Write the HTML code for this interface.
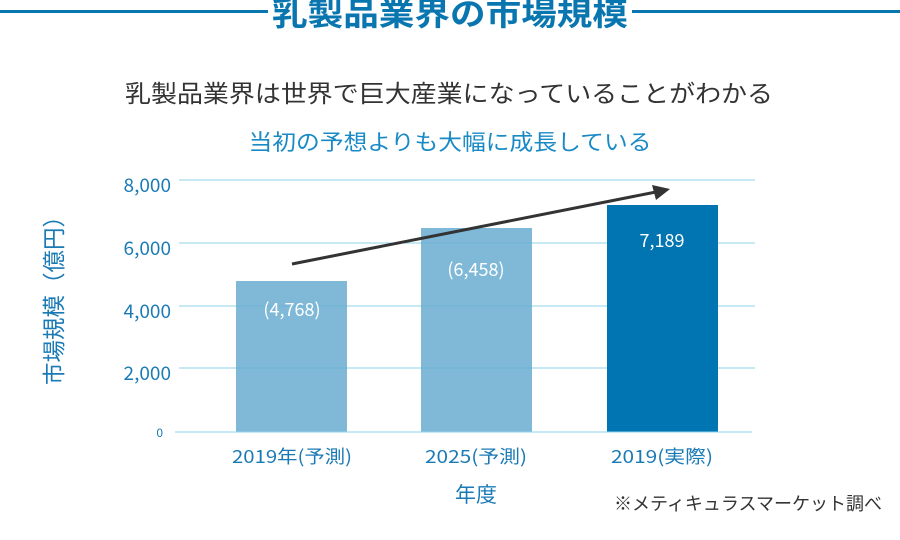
<!DOCTYPE html>
<html><head><meta charset="utf-8"><style>
html,body{margin:0;padding:0;background:#fff;width:900px;height:540px;overflow:hidden}
svg{display:block}
text{font-family:"Noto Sans CJK JP","Liberation Sans",sans-serif}
</style></head><body>
<svg width="900" height="540" viewBox="0 0 900 540">
<rect x="0" y="10" width="268" height="3" fill="#0a76b0"/>
<rect x="632" y="10" width="268" height="3" fill="#0a76b0"/>
<text x="450" y="25" text-anchor="middle" font-size="32" font-weight="bold" fill="#0a76b0" textLength="356" lengthAdjust="spacingAndGlyphs">乳製品業界の市場規模</text>
<text x="449" y="102" text-anchor="middle" font-size="24" fill="#333" textLength="648" lengthAdjust="spacingAndGlyphs">乳製品業界は世界で巨大産業になっていることがわかる</text>
<text x="450" y="150" text-anchor="middle" font-size="22" fill="#1a8ac6" textLength="403" lengthAdjust="spacingAndGlyphs">当初の予想よりも大幅に成長している</text>
<g stroke="#8fd3ea" stroke-width="1">
<line x1="179" y1="180" x2="755" y2="180"/>
<line x1="179" y1="243" x2="755" y2="243"/>
<line x1="179" y1="306" x2="755" y2="306"/>
<line x1="179" y1="368" x2="755" y2="368"/>
</g>
<rect x="236" y="281" width="111" height="151" fill="#80b9d8"/>
<rect x="421" y="228" width="111" height="204" fill="#80b9d8"/>
<rect x="607" y="205" width="111" height="227" fill="#0075b1"/>
<g stroke="#6fb4d4" stroke-width="1">
<line x1="236" y1="306" x2="347" y2="306"/>
<line x1="236" y1="368" x2="347" y2="368"/>
<line x1="421" y1="243" x2="532" y2="243"/>
<line x1="421" y1="306" x2="532" y2="306"/>
<line x1="421" y1="368" x2="532" y2="368"/>
</g>
<line x1="175" y1="432" x2="752" y2="432" stroke="#8fd3ea" stroke-width="1"/>
<g fill="#1a7ab5" font-size="19" text-anchor="end">
<text x="171" y="192">8,000</text>
<text x="171" y="255">6,000</text>
<text x="171" y="318">4,000</text>
<text x="171" y="380">2,000</text>
<text x="163" y="437" font-size="12">0</text>
</g>
<text transform="translate(62,295) rotate(-90)" text-anchor="middle" font-size="23" fill="#1a7ab5" textLength="180" lengthAdjust="spacingAndGlyphs">市場規模（億円）</text>
<g fill="#fff" font-size="18" text-anchor="middle">
<text x="292" y="316">(4,768)</text>
<text x="476" y="276">(6,458)</text>
<text x="662" y="247">7,189</text>
</g>
<line x1="292" y1="264" x2="656" y2="192" stroke="#333" stroke-width="3"/>
<polygon points="670,189 652,185 656,200" fill="#333"/>
<g fill="#1a7ab5" font-size="18" text-anchor="middle">
<text x="292" y="463" textLength="120" lengthAdjust="spacingAndGlyphs">2019年(予測)</text>
<text x="476" y="463" textLength="102" lengthAdjust="spacingAndGlyphs">2025(予測)</text>
<text x="662" y="463" textLength="102" lengthAdjust="spacingAndGlyphs">2019(実際)</text>
</g>
<text x="476" y="502" text-anchor="middle" font-size="21" fill="#1a7ab5">年度</text>
<text x="614" y="510" font-size="18" fill="#333">※メティキュラスマーケット調べ</text>
</svg>
</body></html>
